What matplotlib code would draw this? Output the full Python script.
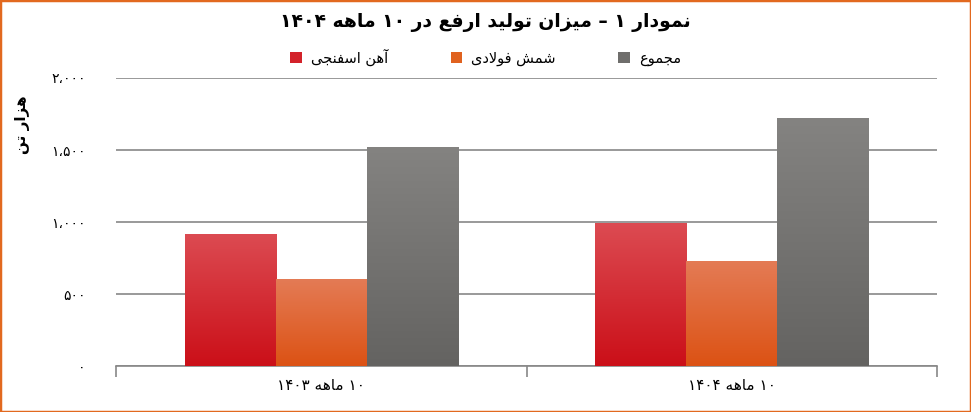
import re
import numpy as np
import matplotlib.pyplot as plt
from matplotlib.patches import Rectangle
from matplotlib.colors import LinearSegmentedColormap

categories = ["۱۰ ماهه ۱۴۰۳", "۱۰ ماهه ۱۴۰۴"]
series_names = ["آهن اسفنجی", "شمش فولادی", "مجموع"]
sponge_iron = [917, 990]
steel_billet = [604, 728]
total = [1521, 1720]
y_ticks = [0, 500, 1000, 1500, 2000]
y_tick_labels = ["۰", "۵۰۰", "۱،۰۰۰", "۱،۵۰۰", "۲،۰۰۰"]
title = "نمودار ۱ – میزان تولید ارفع در ۱۰ ماهه ۱۴۰۴"
y_label = "هزار تن"

# arabic presentation forms: isolated, final, (initial, medial)
FORMS = {
    "ا": (0xFE8D, 0xFE8E), "آ": (0xFE81, 0xFE82),
    "د": (0xFEA9, 0xFEAA), "ر": (0xFEAD, 0xFEAE),
    "ز": (0xFEAF, 0xFEB0), "و": (0xFEED, 0xFEEE),
    "ت": (0xFE95, 0xFE96, 0xFE97, 0xFE98),
    "ج": (0xFE9D, 0xFE9E, 0xFE9F, 0xFEA0),
    "س": (0xFEB1, 0xFEB2, 0xFEB3, 0xFEB4),
    "ش": (0xFEB5, 0xFEB6, 0xFEB7, 0xFEB8),
    "ع": (0xFEC9, 0xFECA, 0xFECB, 0xFECC),
    "ف": (0xFED1, 0xFED2, 0xFED3, 0xFED4),
    "ل": (0xFEDD, 0xFEDE, 0xFEDF, 0xFEE0),
    "م": (0xFEE1, 0xFEE2, 0xFEE3, 0xFEE4),
    "ن": (0xFEE5, 0xFEE6, 0xFEE7, 0xFEE8),
    "ه": (0xFEE9, 0xFEEA, 0xFEEB, 0xFEEC),
    "ی": (0xFEEF, 0xFEF0, 0xFEF3, 0xFEF4),
}
LAM_ALEF = {"ا": (0xFEFB, 0xFEFC), "آ": (0xFEF5, 0xFEF6)}


def shape(text):
    """Join persian letters and put them in visual (left to right) order."""
    out = []
    i, n = 0, len(text)
    while i < n:
        ch = text[i]
        if ch not in FORMS:
            out.append(ch)
            i += 1
            continue
        prev = text[i - 1] if i > 0 else ""
        joins_prev = prev in FORMS and len(FORMS[prev]) == 4
        if ch == "ل" and i + 1 < n and text[i + 1] in LAM_ALEF:
            iso, fin = LAM_ALEF[text[i + 1]]
            out.append(chr(fin if joins_prev else iso))
            i += 2
            continue
        nxt = text[i + 1] if i + 1 < n else ""
        f = FORMS[ch]
        joins_next = len(f) == 4 and nxt in FORMS
        if joins_prev and joins_next:
            c = f[3]
        elif joins_prev:
            c = f[1]
        elif joins_next:
            c = f[2]
        else:
            c = f[0]
        out.append(chr(c))
        i += 1
    vis = "".join(out)[::-1]
    return re.sub(r"[۰-۹،0-9]+", lambda m: m.group(0)[::-1], vis)


def gradient_fill(ax, bars, top, bottom):
    cmap = LinearSegmentedColormap.from_list("g", [bottom, top])
    grad = np.linspace(0, 1, 256).reshape(-1, 1)
    for b in bars:
        x0, y0 = b.get_x(), b.get_y()
        w, h = b.get_width(), b.get_height()
        im = ax.imshow(grad, cmap=cmap, origin="lower", aspect="auto",
                       extent=(x0, x0 + w, y0, y0 + h), zorder=3)
        im.set_clip_path(b)


plt.rcParams["font.family"] = ["DejaVu Sans"]
grid_color = "#878787"

fig = plt.figure(figsize=(9.71, 4.12), dpi=100)
ax = fig.add_axes([116 / 971, 1 - 366 / 412, (937 - 116) / 971, (366 - 78) / 412])

x = np.arange(len(categories))
w = 0.222
series = [sponge_iron, steel_billet, total]
tops = ["#dc4b52", "#e47b55", "#848381"]
bottoms = ["#cb0f18", "#dc5214", "#646361"]
solids = ["#d3222a", "#e0621f", "#6f6e6c"]

handles = []
for k, (vals, top, bot, solid) in enumerate(zip(series, tops, bottoms, solids)):
    bars = ax.bar(x + (k - 1) * w, vals, w, color=solid, edgecolor="none", zorder=3)
    gradient_fill(ax, bars, top, bot)
    handles.append(bars)

ax.set_xlim(-0.5, 1.5)
ax.set_ylim(0, 2000)
ax.set_yticks(y_ticks)
ax.set_yticklabels(y_tick_labels, fontsize=10)
ax.tick_params(axis="y", length=0, pad=22)
ax.yaxis.grid(True, color=grid_color, lw=1.2, zorder=0)
ax.set_axisbelow(True)

ax.set_xticks(x)
ax.set_xticklabels([shape(c) for c in categories], fontsize=11)
ax.set_xticks([-0.5, 0.5, 1.5], minor=True)
ax.tick_params(axis="x", which="major", length=0, pad=9)
ax.tick_params(axis="x", which="minor", length=8, color=grid_color, width=1.2)

for s in ["left", "right", "top"]:
    ax.spines[s].set_visible(False)
ax.spines["bottom"].set_color(grid_color)
ax.spines["bottom"].set_linewidth(1.2)

fig.text(0.5, 1 - 23 / 412, shape(title), ha="center", va="center",
         fontsize=13.5, fontweight="bold")
fig.text(22 / 971, 1 - 125 / 412, shape(y_label), ha="center", va="center",
         rotation=90, fontsize=11, fontweight="bold")

fig.legend(handles, [shape(s) for s in series_names], loc="center",
           bbox_to_anchor=(0.5, 1 - 57 / 412), ncol=3, frameon=False,
           handlelength=0.8, handleheight=0.8, handletextpad=0.6,
           columnspacing=4.3, fontsize=10.5)

fig.patches.append(Rectangle((0, 0), 1, 1, transform=fig.transFigure,
                             fill=False, edgecolor="#e2691f", lw=2.5))

fig.savefig("out.png", dpi=100)
